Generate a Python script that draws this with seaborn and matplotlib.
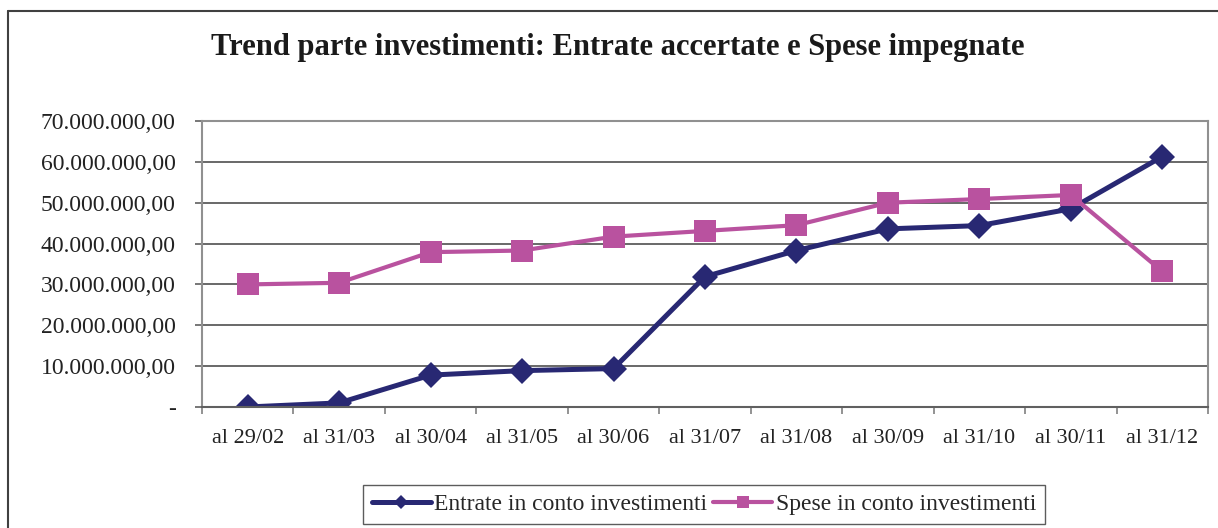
import numpy as np
import pandas as pd
import matplotlib
matplotlib.use("Agg")
import matplotlib.pyplot as plt
import seaborn as sns
from matplotlib.ticker import FuncFormatter, FixedLocator
from matplotlib.lines import Line2D

# =========================
# DATA
# =========================
periodi = [
    "al 29/02", "al 31/03", "al 30/04", "al 31/05", "al 30/06", "al 31/07",
    "al 31/08", "al 30/09", "al 31/10", "al 30/11", "al 31/12"
]

entrate = [
    0.0, 1.0e6, 7.8e6, 8.9e6, 9.4e6, 31.9e6,
    38.3e6, 43.6e6, 44.4e6, 48.5e6, 61.3e6
]

spese = [
    30.0e6, 30.4e6, 37.9e6, 38.3e6, 41.7e6, 43.1e6,
    44.5e6, 50.0e6, 50.9e6, 51.9e6, 33.2e6
]

label_entrate = "Entrate in conto investimenti"
label_spese = "Spese in conto investimenti"

titolo = "Trend parte investimenti: Entrate accertate e Spese impegnate"

df_entrate = pd.DataFrame({"periodo": periodi, "valore": entrate})
df_spese = pd.DataFrame({"periodo": periodi, "valore": spese})

# =========================
# STYLE
# =========================
sns.set_style("white")
plt.rcParams["font.family"] = ["Liberation Serif", "DejaVu Serif"]

col_entrate = "#282873"
col_spese = "#B9529F"


def fmt_euro(v, pos):
    if abs(v) < 1:
        return "-"
    s = f"{v:,.2f}"
    return s.replace(",", "X").replace(".", ",").replace("X", ".")


fig = plt.figure(figsize=(12.18, 5.28), dpi=100)
ax = fig.add_axes([0.1658, 0.2292, 0.826, 0.5416])

sns.lineplot(
    data=df_entrate,
    x="periodo",
    y="valore",
    color=col_entrate,
    marker="D",
    markersize=13,
    markeredgewidth=0,
    linewidth=3.6,
    sort=False,
    label=label_entrate,
    ax=ax
)

sns.lineplot(
    data=df_spese,
    x="periodo",
    y="valore",
    color=col_spese,
    marker="s",
    markersize=16,
    markeredgewidth=0,
    linewidth=3.0,
    sort=False,
    label=label_spese,
    ax=ax
)

# =========================
# AXES
# =========================
ax.set_xlim(-0.5, len(periodi) - 0.5)
ax.set_ylim(0, 70e6)
ax.set_yticks(np.arange(0, 70e6 + 1, 10e6))
ax.yaxis.set_major_formatter(FuncFormatter(fmt_euro))

ax.set_xlabel("")
ax.set_ylabel("")

ax.xaxis.set_minor_locator(FixedLocator(np.arange(-0.5, len(periodi), 1.0)))
ax.tick_params(axis="x", which="major", length=0, pad=16, labelsize=16, colors="#222222")
ax.tick_params(axis="x", which="minor", length=5, width=1.2, color="#808080", bottom=True)
ax.tick_params(axis="y", length=5, width=1.2, color="#606060", pad=14, labelsize=17,
               labelcolor="#222222", left=True)

ax.grid(axis="y", color="#404040", linewidth=1.1)
ax.set_axisbelow(True)

for side in ["top", "right", "left"]:
    ax.spines[side].set_color("#909090")
    ax.spines[side].set_linewidth(1.5)
ax.spines["bottom"].set_color("#606060")
ax.spines["bottom"].set_linewidth(1.5)

# =========================
# TITLE + LEGEND
# =========================
fig.text(0.507, 0.91, titolo, ha="center", va="center",
         fontsize=22, fontweight="bold", color="#1a1a1a")

leg = ax.legend(
    loc="center",
    bbox_to_anchor=(0.578, 0.0445),
    bbox_transform=fig.transFigure,
    ncol=2,
    fontsize=17,
    frameon=True,
    fancybox=False,
    edgecolor="#333333",
    handlelength=2.5,
    handletextpad=0.15,
    columnspacing=0.25,
    markerscale=0.55,
    borderpad=0.35,
    borderaxespad=0
)
leg.get_frame().set_linewidth(1.0)

# chart border (left and top only, rest outside image)
fig.add_artist(Line2D([8 / 1218, 8 / 1218], [0, 1 - 11 / 528],
                      transform=fig.transFigure, color="#404040", linewidth=1.5))
fig.add_artist(Line2D([8 / 1218, 1], [1 - 11 / 528, 1 - 11 / 528],
                      transform=fig.transFigure, color="#404040", linewidth=1.5))

fig.savefig("out.png", dpi=100)
plt.close(fig)
